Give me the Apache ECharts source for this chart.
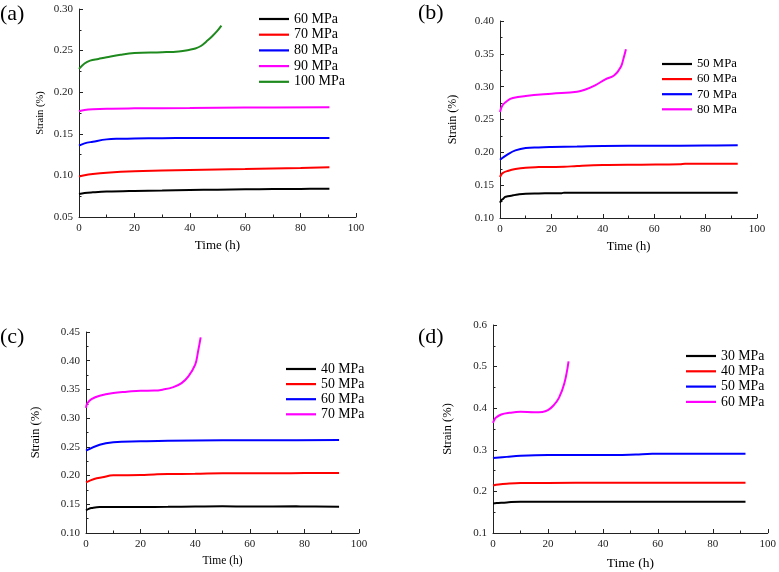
<!DOCTYPE html>
<html>
<head>
<meta charset="utf-8">
<script src="https://cdn.jsdelivr.net/npm/echarts@6/dist/echarts.min.js"></script>
<style>
  html, body { margin: 0; padding: 0; background: #fff; }
  #main { width: 779px; height: 572px; }
</style>
</head>
<body>
<div id="main"></div>
<script>
// ---- (a) ----
const tA60 = [0, 2, 5, 10, 20, 30, 40, 50, 60, 70, 80, 90.4];
const sA60 = [0.0776, 0.0788, 0.0796, 0.0805, 0.0813, 0.0818, 0.0825, 0.0829, 0.0833, 0.0836, 0.0838, 0.0840];
const tA70 = [0, 2, 5, 10, 20, 30, 40, 50, 60, 70, 80, 90.4];
const sA70 = [0.0985, 0.1003, 0.1018, 0.1033, 0.1050, 0.1058, 0.1065, 0.1071, 0.1077, 0.1084, 0.1090, 0.1097];
const tA80 = [0, 2, 5, 10, 15, 20, 30, 40, 60, 90.4];
const sA80 = [0.1357, 0.1385, 0.1405, 0.1433, 0.1441, 0.1445, 0.1448, 0.1450, 0.1450, 0.1450];
const tA90 = [0, 2, 5, 10, 20, 40, 60, 90.4];
const sA90 = [0.1770, 0.1785, 0.1795, 0.1802, 0.1806, 0.1810, 0.1815, 0.1818];
const tA100 = [0, 2, 4, 7, 10, 15, 20, 30, 36, 40, 42, 44, 46, 48, 50, 51.4];
const sA100 = [0.228, 0.2345, 0.238, 0.240, 0.242, 0.245, 0.247, 0.248, 0.249, 0.251, 0.2525, 0.2555, 0.261, 0.267, 0.274, 0.280];

// ---- (b) ----
const tB50 = [0, 0.5, 1, 2, 3, 5, 7, 10, 15, 20, 24, 25, 40, 60, 80, 92.5];
const sB50 = [0.1233, 0.127, 0.1284, 0.132, 0.1330, 0.1345, 0.1358, 0.137, 0.1374, 0.1376, 0.1378, 0.1386, 0.1386, 0.1386, 0.1386, 0.1386];
const tB60 = [0, 0.5, 1, 3, 6, 10, 15, 20, 25, 30, 40, 55, 70, 72, 92.5];
const sB60 = [0.1624, 0.166, 0.1685, 0.1716, 0.1746, 0.1767, 0.1775, 0.1777, 0.1780, 0.1792, 0.1807, 0.1812, 0.1817, 0.1827, 0.1827];
const tB70 = [0, 3, 6, 10, 15, 20, 30, 40, 60, 80, 92.5];
const sB70 = [0.1888, 0.197, 0.203, 0.2066, 0.2075, 0.208, 0.2087, 0.2096, 0.2100, 0.2104, 0.2107];
const tB80 = [0, 1, 3, 5, 10, 20, 30, 33, 37, 41, 44.5, 47, 48, 49];
const sB80 = [0.2614, 0.2716, 0.279, 0.2827, 0.2858, 0.2893, 0.2924, 0.2954, 0.302, 0.3112, 0.3173, 0.330, 0.342, 0.357];

// ---- (c) ----
const tC40 = [0, 1, 2, 5, 10, 20, 30, 40, 50, 60, 77, 80, 92.7];
const sC40 = [0.1395, 0.1420, 0.1435, 0.1453, 0.1453, 0.1453, 0.1455, 0.1460, 0.1464, 0.1460, 0.1466, 0.1460, 0.1459];
const tC50 = [0, 3, 6, 10, 20, 25, 30, 40, 50, 70, 80, 92.7];
const sC50 = [0.1882, 0.194, 0.197, 0.2004, 0.2010, 0.2020, 0.2027, 0.2030, 0.2039, 0.2040, 0.2044, 0.2045];
const tC60 = [0, 5, 10, 20, 30, 50, 70, 92.7];
const sC60 = [0.2434, 0.2538, 0.2579, 0.2596, 0.2608, 0.2613, 0.2616, 0.2619];
const tC70 = [0, 0.5, 2, 5, 10, 15, 20, 25, 28, 32, 35, 37.5, 40, 41, 42];
const sC70 = [0.318, 0.326, 0.333, 0.339, 0.3438, 0.346, 0.3478, 0.348, 0.3496, 0.354, 0.361, 0.3728, 0.393, 0.415, 0.4407];

// ---- (d) ----
const tD30 = [0, 2, 5, 10, 30, 60, 91.9];
const sD30 = [0.1712, 0.1722, 0.1736, 0.1752, 0.1752, 0.1752, 0.1752];
const tD40 = [0, 2, 5, 10, 30, 60, 91.9];
const sD40 = [0.2144, 0.2165, 0.2184, 0.2200, 0.2205, 0.2208, 0.2208];
const tD50 = [0, 5, 10, 20, 45, 52, 58, 91.9];
const sD50 = [0.2800, 0.2830, 0.2856, 0.2872, 0.2872, 0.2888, 0.2904, 0.2904];
const tD60 = [0, 0.5, 1, 3, 6, 10, 15, 18, 20, 22, 24, 26, 27.5];
const sD60 = [0.3648, 0.372, 0.377, 0.3848, 0.3888, 0.3912, 0.3904, 0.391, 0.3952, 0.4064, 0.4248, 0.4608, 0.5128];

const FONT = '"Liberation Serif", "Times New Roman", serif';
const BLACK = '#000000', RED = '#ff0000', BLUE = '#0000ff', MAG = '#ff00ff', GREEN = '#1e8a1e';

// panel: grid box, y range, legend position, text sizes
const panels = [
  { tag: '(a)', grid: { left: 79, top: 9, width: 277, height: 208 }, yMin: 0.05, yMax: 0.30, yStep: 0.05, dec: 2,
    leg: { left: 259, top: 12, row: 15.7, size: 14 }, strainSize: 10.5, strainGap: 33, timeSize: 13, timeGap: 22,
    label: [0, 3],
    lines: [['60 MPa', tA60, sA60, BLACK], ['70 MPa', tA70, sA70, RED], ['80 MPa', tA80, sA80, BLUE],
            ['90 MPa', tA90, sA90, MAG], ['100 MPa', tA100, sA100, GREEN]] },
  { tag: '(b)', grid: { left: 500, top: 21, width: 257, height: 197 }, yMin: 0.10, yMax: 0.40, yStep: 0.05, dec: 2,
    leg: { left: 662, top: 57, row: 15.1, size: 12.7 }, strainSize: 12, strainGap: 41, timeSize: 12.5, timeGap: 22,
    label: [418, 2],
    lines: [['50 MPa', tB50, sB50, BLACK], ['60 MPa', tB60, sB60, RED], ['70 MPa', tB70, sB70, BLUE],
            ['80 MPa', tB80, sB80, MAG]] },
  { tag: '(c)', grid: { left: 86, top: 332, width: 273, height: 201 }, yMin: 0.10, yMax: 0.45, yStep: 0.05, dec: 2,
    leg: { left: 286, top: 362, row: 15.1, size: 13.8 }, strainSize: 12.5, strainGap: 44, timeSize: 11.5, timeGap: 22,
    label: [0, 326],
    lines: [['40 MPa', tC40, sC40, BLACK], ['50 MPa', tC50, sC50, RED], ['60 MPa', tC60, sC60, BLUE],
            ['70 MPa', tC70, sC70, MAG]] },
  { tag: '(d)', grid: { left: 493, top: 325, width: 277, height: 208 }, yMin: 0.1, yMax: 0.6, yStep: 0.1, dec: 1,
    leg: { left: 686, top: 349, row: 15.3, size: 13.8 }, strainSize: 12.5, strainGap: 39, timeSize: 13.5, timeGap: 23,
    label: [418, 326],
    lines: [['30 MPa', tD30, sD30, BLACK], ['40 MPa', tD40, sD40, RED], ['50 MPa', tD50, sD50, BLUE],
            ['60 MPa', tD60, sD60, MAG]] }
];

const axisCommon = {
  axisLine: { lineStyle: { color: '#222', width: 1 } },
  axisTick: { inside: true, length: 4, lineStyle: { color: '#222' } },
  minorTick: { show: true, splitNumber: 2, length: 2.5, lineStyle: { color: '#222' } },
  splitLine: { show: false },
  minorSplitLine: { show: false }
};

const option = { backgroundColor: '#fff', animation: false, grid: [], xAxis: [], yAxis: [], legend: [], series: [], graphic: [] };

panels.forEach((p, i) => {
  option.grid.push(Object.assign({ containLabel: false }, p.grid));
  option.xAxis.push(Object.assign({
    type: 'value', gridIndex: i, min: 0, max: 100, interval: 20,
    name: 'Time (h)', nameLocation: 'middle', nameGap: p.timeGap,
    nameTextStyle: { fontFamily: FONT, fontSize: p.timeSize, color: '#000' },
    axisLabel: { fontFamily: FONT, fontSize: 11, color: '#222', margin: 6 }
  }, axisCommon));
  option.yAxis.push(Object.assign({
    type: 'value', gridIndex: i, min: p.yMin, max: p.yMax, interval: p.yStep,
    name: 'Strain (%)', nameLocation: 'middle', nameGap: p.strainGap, nameRotate: 90,
    nameTextStyle: { fontFamily: FONT, fontSize: p.strainSize, color: '#000' },
    axisLabel: { fontFamily: FONT, fontSize: 11, color: '#222', margin: 6,
      formatter: v => v.toFixed(p.dec) }
  }, axisCommon));
  const names = [];
  p.lines.forEach(([name, t, s, color]) => {
    const id = p.tag + ' ' + name;
    names.push(id);
    option.series.push({
      name: id, type: 'line', xAxisIndex: i, yAxisIndex: i,
      data: t.map((x, k) => [x, s[k]]),
      smooth: 0.4, symbol: 'none',
      lineStyle: { color: color, width: 2 }, itemStyle: { color: color }
    });
  });
  const lh = 14;
  option.legend.push({
    data: names, orient: 'vertical', left: p.leg.left, top: p.leg.top,
    icon: 'rect', itemWidth: 30, itemHeight: 2.2, itemGap: p.leg.row - lh, padding: 0,
    formatter: n => n.slice(4),
    textStyle: { fontFamily: FONT, fontSize: p.leg.size, lineHeight: lh, color: '#000' },
    selectedMode: false
  });
  option.graphic.push({
    type: 'text', left: p.label[0], top: p.label[1],
    style: { text: p.tag, font: '22px ' + FONT, fill: '#000' }
  });
});

const chart = echarts.init(document.getElementById('main'), null, { renderer: 'canvas' });
chart.setOption(option);
</script>
</body>
</html>
